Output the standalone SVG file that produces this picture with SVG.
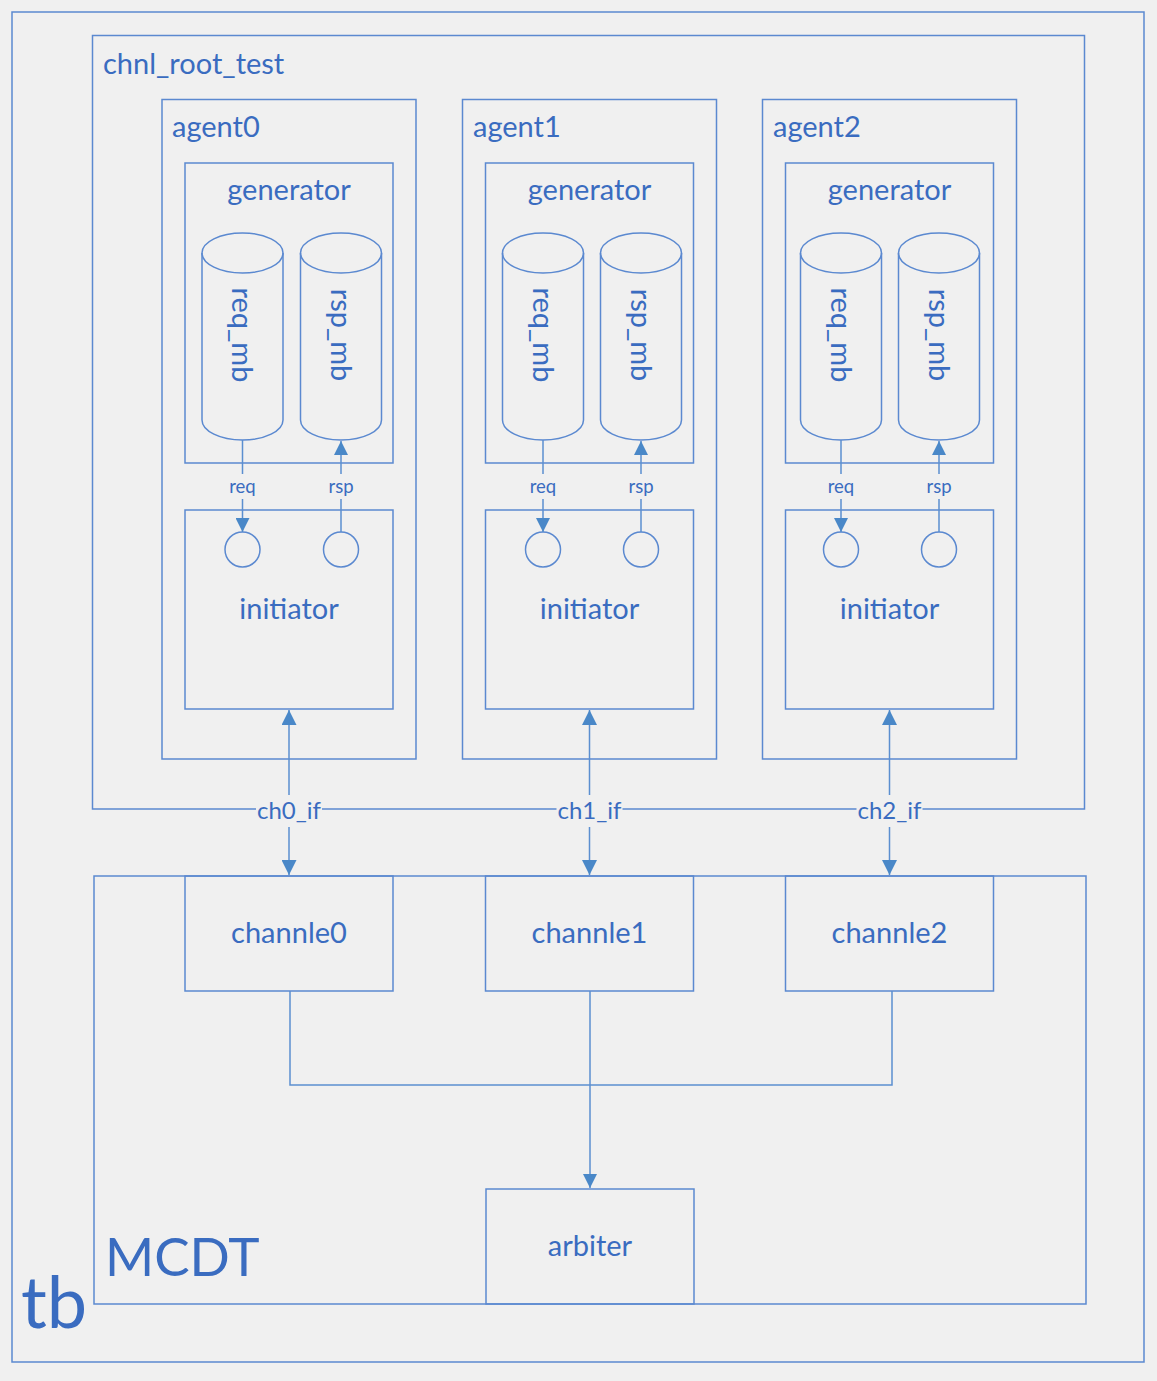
<svg xmlns="http://www.w3.org/2000/svg" width="1157" height="1381" viewBox="0 0 1157 1381">
<style>
.box{fill:none;stroke:#5b89d0;stroke-width:1.5}
.cyl{fill:none;stroke:#5b89d0;stroke-width:1.5}
.ln{fill:none;stroke:#5b8fd0;stroke-width:1.5}
.t{font-family:Lato,"Open Sans","Liberation Sans",sans-serif;fill:#3a6cc0}
.lbl{font-size:29px}
.sm{font-size:18.5px}
.ifl{font-size:24px}
.bg{fill:#f0f0f0}
</style>
<defs>
<marker id="ah" viewBox="0 0 10 10" refX="10" refY="5" markerWidth="22" markerHeight="15" orient="auto-start-reverse" markerUnits="userSpaceOnUse"><path d="M0,0 L10,5 L0,10 z" fill="#4a88c8"/></marker>
<marker id="ahs" viewBox="0 0 10 10" refX="10" refY="5" markerWidth="15" markerHeight="14" orient="auto" markerUnits="userSpaceOnUse"><path d="M0,0 L10,5 L0,10 z" fill="#4a88c8"/></marker>
<marker id="ahl" viewBox="0 0 10 10" refX="10" refY="5" markerWidth="24" markerHeight="14" orient="auto" markerUnits="userSpaceOnUse"><path d="M0,0 L10,5 L0,10 z" fill="#4a88c8"/></marker>
</defs>
<rect width="1157" height="1381" fill="#f0f0f0"/>

<g id="tb">
<rect class="box" x="12" y="12" width="1132" height="1350"/>
<text class="t" x="21" y="1328" font-size="72">tb</text>
</g>

<g id="chnl_root_test">
<rect class="box" x="92.5" y="35.5" width="992" height="773.5"/>
<text class="t lbl" x="103" y="74">chnl_root_test</text>
</g>

<g id="agent0">
<rect class="box" x="162" y="99.5" width="254" height="659.5"/>
<text class="t lbl" x="172" y="137">agent0</text>
</g>
<g id="generator0">
<rect class="box" x="185" y="163" width="208" height="300"/>
<text class="t lbl" x="289" y="200" text-anchor="middle">generator</text>
</g>
<g id="req_mb0">
<path class="cyl" d="M202,253 L202,420 A40.5,20 0 0 0 283,420 L283,253"/>
<ellipse class="cyl" cx="242.5" cy="253" rx="40.5" ry="20"/>
<text class="t lbl" transform="translate(232,335) rotate(90)" text-anchor="middle">req_mb</text>
</g>
<g id="rsp_mb0">
<path class="cyl" d="M300.5,253 L300.5,420 A40.5,20 0 0 0 381.5,420 L381.5,253"/>
<ellipse class="cyl" cx="341" cy="253" rx="40.5" ry="20"/>
<text class="t lbl" transform="translate(330.5,335) rotate(90)" text-anchor="middle">rsp_mb</text>
</g>
<g id="initiator0">
<rect class="box" x="185" y="510" width="208" height="199"/>
<circle class="box" cx="242.5" cy="549.5" r="17.5"/>
<circle class="box" cx="341" cy="549.5" r="17.5"/>
<text class="t lbl" x="289" y="619" text-anchor="middle">initiator</text>
</g>

<g id="agent1">
<rect class="box" x="462.5" y="99.5" width="254" height="659.5"/>
<text class="t lbl" x="473" y="137">agent1</text>
</g>
<g id="generator1">
<rect class="box" x="485.5" y="163" width="208" height="300"/>
<text class="t lbl" x="589.5" y="200" text-anchor="middle">generator</text>
</g>
<g id="req_mb1">
<path class="cyl" d="M502.5,253 L502.5,420 A40.5,20 0 0 0 583.5,420 L583.5,253"/>
<ellipse class="cyl" cx="543" cy="253" rx="40.5" ry="20"/>
<text class="t lbl" transform="translate(532.5,335) rotate(90)" text-anchor="middle">req_mb</text>
</g>
<g id="rsp_mb1">
<path class="cyl" d="M600.5,253 L600.5,420 A40.5,20 0 0 0 681.5,420 L681.5,253"/>
<ellipse class="cyl" cx="641" cy="253" rx="40.5" ry="20"/>
<text class="t lbl" transform="translate(630.5,335) rotate(90)" text-anchor="middle">rsp_mb</text>
</g>
<g id="initiator1">
<rect class="box" x="485.5" y="510" width="208" height="199"/>
<circle class="box" cx="543" cy="549.5" r="17.5"/>
<circle class="box" cx="641" cy="549.5" r="17.5"/>
<text class="t lbl" x="589.5" y="619" text-anchor="middle">initiator</text>
</g>

<g id="agent2">
<rect class="box" x="762.5" y="99.5" width="254" height="659.5"/>
<text class="t lbl" x="773" y="137">agent2</text>
</g>
<g id="generator2">
<rect class="box" x="785.5" y="163" width="208" height="300"/>
<text class="t lbl" x="889.5" y="200" text-anchor="middle">generator</text>
</g>
<g id="req_mb2">
<path class="cyl" d="M800.5,253 L800.5,420 A40.5,20 0 0 0 881.5,420 L881.5,253"/>
<ellipse class="cyl" cx="841" cy="253" rx="40.5" ry="20"/>
<text class="t lbl" transform="translate(830.5,335) rotate(90)" text-anchor="middle">req_mb</text>
</g>
<g id="rsp_mb2">
<path class="cyl" d="M898.5,253 L898.5,420 A40.5,20 0 0 0 979.5,420 L979.5,253"/>
<ellipse class="cyl" cx="939" cy="253" rx="40.5" ry="20"/>
<text class="t lbl" transform="translate(928.5,335) rotate(90)" text-anchor="middle">rsp_mb</text>
</g>
<g id="initiator2">
<rect class="box" x="785.5" y="510" width="208" height="199"/>
<circle class="box" cx="841" cy="549.5" r="17.5"/>
<circle class="box" cx="939" cy="549.5" r="17.5"/>
<text class="t lbl" x="889.5" y="619" text-anchor="middle">initiator</text>
</g>

<g id="MCDT">
<rect class="box" x="94" y="876" width="992" height="428"/>
<text class="t" x="105" y="1276" font-size="53">MCDT</text>
</g>
<g id="channle0">
<rect class="box" x="185" y="876" width="208" height="115"/>
<text class="t lbl" x="289" y="943" text-anchor="middle">channle0</text>
</g>
<g id="channle1">
<rect class="box" x="485.5" y="876" width="208" height="115"/>
<text class="t lbl" x="589.5" y="943" text-anchor="middle">channle1</text>
</g>
<g id="channle2">
<rect class="box" x="785.5" y="876" width="208" height="115"/>
<text class="t lbl" x="889.5" y="943" text-anchor="middle">channle2</text>
</g>
<g id="arbiter">
<rect class="box" x="486" y="1189" width="208" height="115"/>
<text class="t lbl" x="590" y="1256" text-anchor="middle">arbiter</text>
</g>

<g id="connectors">
<line class="ln" x1="242.5" y1="440" x2="242.5" y2="532" marker-end="url(#ahs)"/>
<line class="ln" x1="341" y1="532" x2="341" y2="441" marker-end="url(#ahs)"/>
<line class="ln" x1="543" y1="440" x2="543" y2="532" marker-end="url(#ahs)"/>
<line class="ln" x1="641" y1="532" x2="641" y2="441" marker-end="url(#ahs)"/>
<line class="ln" x1="841" y1="440" x2="841" y2="532" marker-end="url(#ahs)"/>
<line class="ln" x1="939" y1="532" x2="939" y2="441" marker-end="url(#ahs)"/>

<rect class="bg" x="224" y="474" width="38" height="25"/>
<text class="t sm" x="242.5" y="493" text-anchor="middle">req</text>
<rect class="bg" x="323" y="474" width="36" height="25"/>
<text class="t sm" x="341" y="493" text-anchor="middle">rsp</text>
<rect class="bg" x="524" y="474" width="38" height="25"/>
<text class="t sm" x="543" y="493" text-anchor="middle">req</text>
<rect class="bg" x="623" y="474" width="36" height="25"/>
<text class="t sm" x="641" y="493" text-anchor="middle">rsp</text>
<rect class="bg" x="822" y="474" width="38" height="25"/>
<text class="t sm" x="841" y="493" text-anchor="middle">req</text>
<rect class="bg" x="921" y="474" width="36" height="25"/>
<text class="t sm" x="939" y="493" text-anchor="middle">rsp</text>

<line class="ln" x1="289" y1="710" x2="289" y2="875" marker-start="url(#ah)" marker-end="url(#ah)"/>
<line class="ln" x1="589.5" y1="710" x2="589.5" y2="875" marker-start="url(#ah)" marker-end="url(#ah)"/>
<line class="ln" x1="889.5" y1="710" x2="889.5" y2="875" marker-start="url(#ah)" marker-end="url(#ah)"/>
<rect class="bg" x="256" y="795" width="66" height="32"/>
<text class="t ifl" x="289" y="819" text-anchor="middle">ch0_if</text>
<rect class="bg" x="556.5" y="795" width="66" height="32"/>
<text class="t ifl" x="589.5" y="819" text-anchor="middle">ch1_if</text>
<rect class="bg" x="856.5" y="795" width="66" height="32"/>
<text class="t ifl" x="889.5" y="819" text-anchor="middle">ch2_if</text>

<polyline class="ln" points="290,991 290,1085 892,1085 892,991"/>
<line class="ln" x1="590" y1="991" x2="590" y2="1188" marker-end="url(#ahl)"/>
</g>
</svg>
